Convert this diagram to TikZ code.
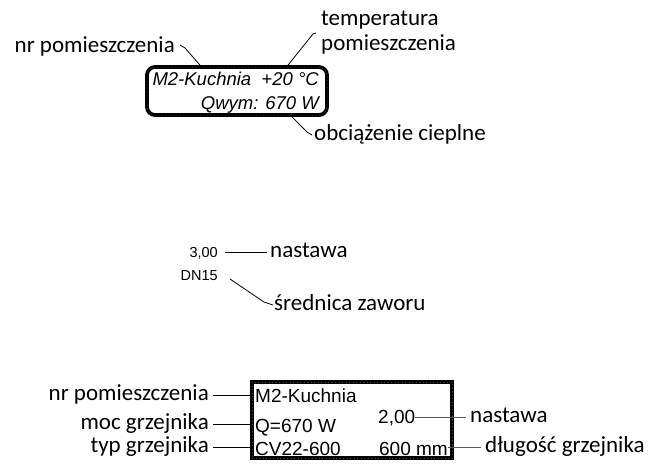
\documentclass[tikz,border=0pt]{standalone}
\usepackage{fontspec}
\newfontfamily\lblfont{Carlito}
\newfontfamily\arialfont{Liberation Sans}
\begin{document}
\begin{tikzpicture}[x=1pt,y=-1pt,
  lbl/.style={font=\lblfont\fontsize{23}{27}\selectfont, inner sep=0pt, text height=16pt, text depth=4.6pt},
  itxt/.style={font=\arialfont\itshape\fontsize{18.5}{21}\selectfont, inner sep=0pt, text height=13.3pt, text depth=0pt},
  small/.style={font=\arialfont\fontsize{14.5}{17}\selectfont, inner sep=0pt, text height=10.4pt, text depth=0pt},
  btxt/.style={font=\arialfont\fontsize{19}{22}\selectfont, inner sep=0pt, text height=13.7pt, text depth=0pt},
  conn/.style={draw=black, line width=0.8pt},
  gconn/.style={draw=black!65, line width=0.9pt},
  texture/.style={postaction={draw=black!70, line width=0.5pt, dash pattern=on 1pt off 2.5pt}},
  topbox/.style={draw=black, line width=3.8pt, rounded corners=8pt, minimum width=180pt, minimum height=48pt, inner sep=0pt, texture},
  botbox/.style={draw=black, line width=3.8pt, minimum width=200pt, minimum height=76pt, inner sep=0pt, texture}]
\useasboundingbox (0,0) rectangle (667,472);

% ---- top room label ----
\node[topbox] (tbox) at (237,91) {};
\node[itxt,anchor=east] (tb1) at (319,79) {M2-Kuchnia\ \ +20 °C};
\node[itxt,anchor=east] (tb2) at (319,103) {Qwym: 670 W};

\node[lbl,anchor=east] (tnr) at (175,47) {nr pomieszczenia};
\node[lbl,anchor=west] (ttemp1) at (321,20) {temperatura};
\node[lbl,anchor=west] (ttemp2) at (321,45) {pomieszczenia};
\node[lbl,anchor=west] (tobc) at (314,135) {obciążenie cieplne};

\draw[conn] ([xshift=5pt,yshift=2pt]tnr.east) -- ++(5,3) -- ([xshift=-37pt]tbox.north);
\draw[conn] ([xshift=-5pt,yshift=12pt]ttemp2.west) -- ++(-3,1) -- ([xshift=51pt]tbox.north);
\draw[conn] ([xshift=55pt]tbox.south) -- ([xshift=-7pt,yshift=3pt]tobc.west) -- ([xshift=-2pt]tobc.west);

% ---- valve ----
\node[small,anchor=east] (m30) at (218,252) {3,00};
\node[lbl,anchor=west] (mnast) at (270,252) {nastawa};
\draw[conn] ([xshift=7pt]m30.east) -- ([xshift=-3pt]mnast.west);
\node[small,anchor=east] (mdn) at (218,275) {DN15};
\node[lbl,anchor=west] (msr) at (274,305) {średnica zaworu};
\draw[conn] ([xshift=12pt,yshift=-4pt]mdn.east) -- ([xshift=-10pt,yshift=3pt]msr.west) -- ([xshift=-1pt]msr.west);

% ---- radiator ----
\node[botbox] (bbox) at (352,420) {};
\node[btxt,anchor=west] (b1) at (255,396) {M2-Kuchnia};
\node[btxt,anchor=west] (b2) at (255,426) {Q=670 W};
\node[btxt,anchor=west] (b3) at (255,449) {CV22-600};
\node[btxt,anchor=west] (b4) at (378,417) {2,00};
\node[btxt,anchor=east] (b5) at (448,449) {600 mm};

\node[lbl,anchor=east] (l1) at (209,395) {nr pomieszczenia};
\node[lbl,anchor=east] (l2) at (209,424) {moc grzejnika};
\node[lbl,anchor=east] (l3) at (209,447) {typ grzejnika};
\node[lbl,anchor=west] (rn) at (470,417) {nastawa};
\node[lbl,anchor=west] (rd) at (485,447) {długość grzejnika};

\draw[conn] ([xshift=4pt]l1.east) -- (l1.east -| bbox.west);
\draw[conn] ([xshift=4pt]l2.east) -- (l2.east -| bbox.west);
\draw[conn] ([xshift=4pt]l3.east) -- (l3.east -| bbox.west);
\draw[gconn] (b4.east) -- ([xshift=-4pt]rn.west);
\draw[gconn] (rd.west -| b5.east) -- ([xshift=-4pt]rd.west);
\end{tikzpicture}
\end{document}
